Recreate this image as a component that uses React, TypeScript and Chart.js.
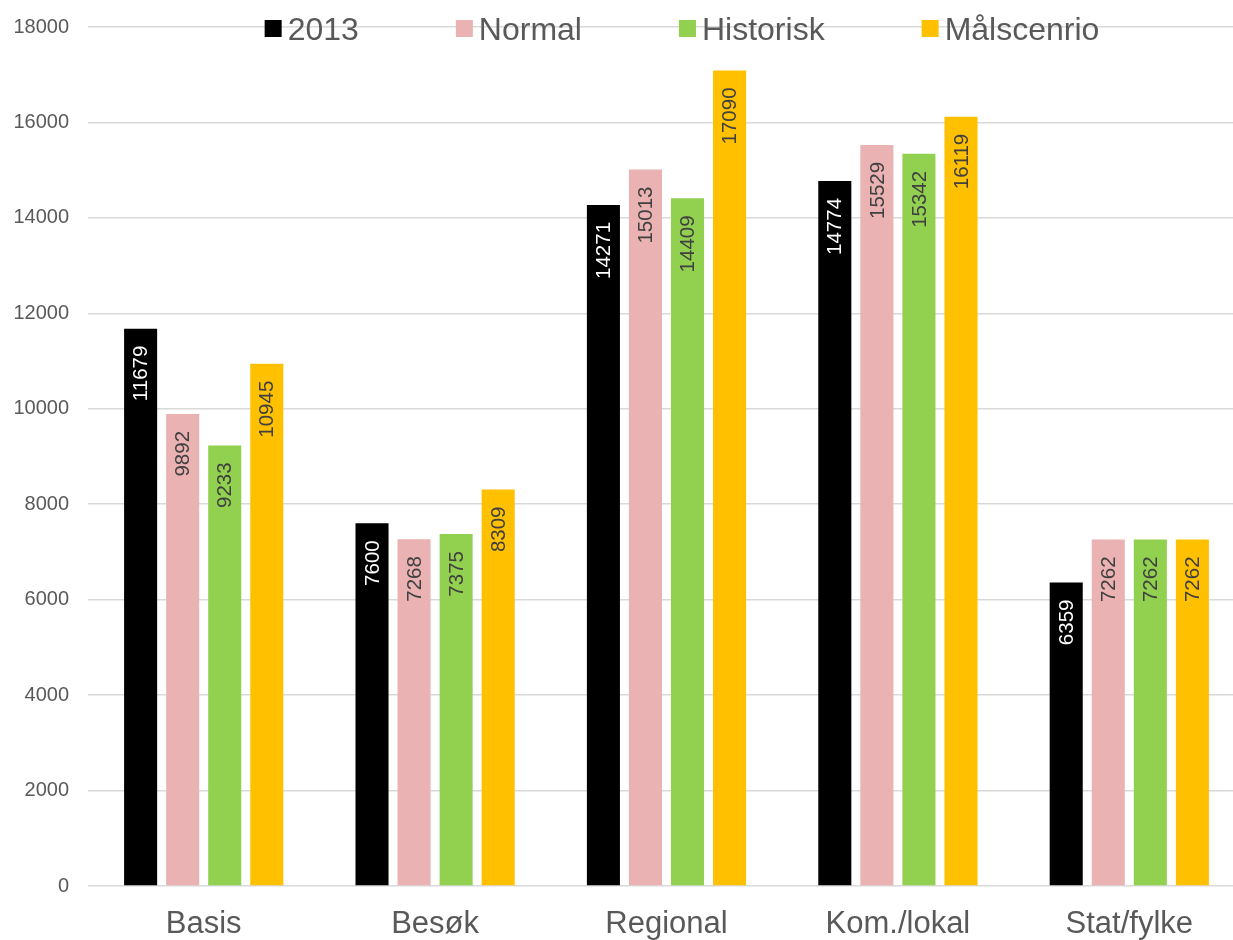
import React, { useEffect, useRef } from "react";
import { Chart, registerables } from "chart.js";

Chart.register(...registerables);

const categories = ["Basis", "Besøk", "Regional", "Kom./lokal", "Stat/fylke"];
const seriesNames = ["2013", "Normal", "Historisk", "Målscenrio"];
const values2013 = [11679, 7600, 14271, 14774, 6359];
const valuesNormal = [9892, 7268, 15013, 15529, 7262];
const valuesHistorisk = [9233, 7375, 14409, 15342, 7262];
const valuesMaal = [10945, 8309, 17090, 16119, 7262];
const seriesColors = ["#000000", "#EAB2B2", "#92D050", "#FFC000"];
const labelColors = ["#FFFFFF", "#404040", "#404040", "#404040"];
const yMin = 0;
const yMax = 18000;
const yStep = 2000;

const FONT = "'Liberation Sans', Arial, sans-serif";

const dataLabelPlugin = {
  id: "dataLabels",
  afterDatasetsDraw(chart: any) {
    const ctx = chart.ctx;
    chart.data.datasets.forEach((ds: any, di: number) => {
      const meta = chart.getDatasetMeta(di);
      meta.data.forEach((bar: any, i: number) => {
        ctx.save();
        ctx.translate(bar.x, bar.y + 17);
        ctx.rotate(-Math.PI / 2);
        ctx.font = `20.5px ${FONT}`;
        ctx.fillStyle = labelColors[di];
        ctx.textAlign = "right";
        ctx.textBaseline = "middle";
        ctx.fillText(String(ds.data[i]), 0, 1);
        ctx.restore();
      });
    });
  },
};

const legendPlugin = {
  id: "customLegend",
  afterDraw(chart: any) {
    const ctx = chart.ctx;
    ctx.save();
    ctx.font = `32px ${FONT}`;
    const box = 17;
    const boxGap = 6;
    const itemGap = 97;
    const widths = seriesNames.map((n) => box + boxGap + ctx.measureText(n).width);
    const total = widths.reduce((a, b) => a + b, 0) + itemGap * (seriesNames.length - 1);
    let x = 682 - total / 2;
    seriesNames.forEach((n, i) => {
      ctx.fillStyle = seriesColors[i];
      ctx.fillRect(x, 20, box, box);
      ctx.fillStyle = "#595959";
      ctx.textAlign = "left";
      ctx.textBaseline = "alphabetic";
      ctx.fillText(n, x + box + boxGap, 39.5);
      x += widths[i] + itemGap;
    });
    ctx.restore();
  },
};

export default function App() {
  const ref = useRef<HTMLCanvasElement>(null);
  useEffect(() => {
    if (!ref.current) return;
    const seriesData = [values2013, valuesNormal, valuesHistorisk, valuesMaal];
    const chart = new Chart(ref.current, {
      type: "bar",
      data: {
        labels: categories,
        datasets: seriesNames.map((name, i) => ({
          label: name,
          data: seriesData[i],
          backgroundColor: seriesColors[i],
          borderWidth: 0,
          categoryPercentage: 0.727,
          barPercentage: 0.786,
        })),
      },
      options: {
        responsive: false,
        animation: false,
        devicePixelRatio: 1,
        layout: { padding: { top: 27, right: 5, left: 0, bottom: 0 } },
        plugins: {
          legend: { display: false },
          tooltip: { enabled: false },
          title: { display: false },
        },
        scales: {
          x: {
            grid: { display: false },
            border: { display: false },
            ticks: {
              color: "#595959",
              font: { family: FONT, size: 31 },
              padding: 12,
              maxRotation: 0,
            },
            afterFit(scale: any) {
              scale.height = 54;
              scale.paddingLeft = 0;
              scale.paddingRight = 0;
            },
          },
          y: {
            min: yMin,
            max: yMax,
            grid: { color: "#D9D9D9", lineWidth: 1.5, drawTicks: false },
            border: { display: false },
            ticks: {
              stepSize: yStep,
              color: "#595959",
              font: { family: FONT, size: 20 },
              padding: 19,
              callback: (v: any) => String(v),
            },
            afterFit(scale: any) {
              scale.width = 88;
              scale.paddingTop = 0;
              scale.paddingBottom = 0;
            },
          },
        },
      },
      plugins: [dataLabelPlugin, legendPlugin],
    });
    return () => chart.destroy();
  }, []);
  return (
    <div
      style={{
        position: "absolute",
        left: 0,
        top: 0,
        width: 1233,
        height: 940,
        overflow: "hidden",
        background: "#fff",
      }}
    >
      <canvas ref={ref} width={1250} height={940} style={{ display: "block" }} />
    </div>
  );
}
